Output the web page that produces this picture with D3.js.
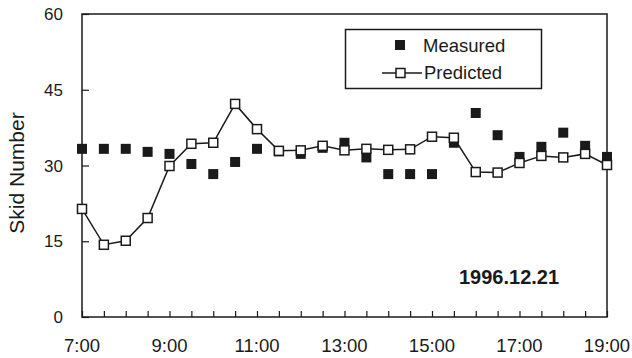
<!DOCTYPE html>
<html><head><meta charset="utf-8">
<script src="https://cdn.jsdelivr.net/npm/d3@7/dist/d3.min.js"></script>
<style>body{margin:0;background:#fff}svg{display:block}text{font-family:"Liberation Sans",Arial,sans-serif;fill:#1a1a1a}</style>
</head><body>
<svg id="c" width="632" height="358"></svg>
<script>
const times = ["7:00","7:30","8:00","8:30","9:00","9:30","10:00","10:30","11:00","11:30","12:00","12:30","13:00","13:30","14:00","14:30","15:00","15:30","16:00","16:30","17:00","17:30","18:00","18:30","19:00"];
const measured = [33.3,33.3,33.3,32.7,32.3,30.3,28.3,30.7,33.3,32.8,32.3,33.5,34.5,31.6,28.3,28.3,28.3,34.5,40.4,36.0,31.7,33.7,36.5,33.9,31.7];
const predicted = [21.4,14.3,15.1,19.6,29.9,34.3,34.5,42.2,37.2,32.9,33.0,33.9,33.0,33.3,33.1,33.2,35.7,35.5,28.7,28.6,30.5,31.9,31.6,32.3,30.1];
const xTickLabels = ["7:00","9:00","11:00","13:00","15:00","17:00","19:00"];
const yTicks = [0,15,30,45,60];
const seriesNames = ["Measured","Predicted"];
const yTitle = "Skid Number";
const dateLabel = "1996.12.21";

const toH = s => { const [h,m] = s.split(":").map(Number); return h + m/60; };
const svg = d3.select("#c");
const L=82, R=607, T=14, B=317;
const x = d3.scaleLinear().domain([7,19]).range([L,R]);
const y = d3.scaleLinear().domain([0,60]).range([B,T]);
const ink = "#1a1a1a";

// frame
svg.append("rect").attr("x",L).attr("y",T).attr("width",R-L).attr("height",B-T)
  .attr("fill","none").attr("stroke",ink).attr("stroke-width",1.5);

// x axis: half-hour ticks inward
const xAxis = d3.axisBottom(x).tickValues(times.map(toH)).tickSize(-6).tickFormat("");
const gx = svg.append("g").attr("transform",`translate(0,${B})`).call(xAxis);
gx.select(".domain").remove();
gx.selectAll("line").attr("stroke",ink).attr("stroke-width",1.2);
svg.append("g").selectAll("text").data(xTickLabels).join("text")
  .attr("x",d=>x(toH(d))).attr("y",352).attr("text-anchor","middle")
  .attr("font-size",18.5).text(d=>d);

// y axis
const yAxis = d3.axisLeft(y).tickValues(yTicks).tickSize(-7).tickFormat("");
const gy = svg.append("g").attr("transform",`translate(${L},0)`).call(yAxis);
gy.select(".domain").remove();
gy.selectAll("line").attr("stroke",ink).attr("stroke-width",1.2);
svg.append("g").selectAll("text").data(yTicks).join("text")
  .attr("x",63).attr("y",d=>y(d)+6).attr("text-anchor","end")
  .attr("font-size",17).text(d=>d);

svg.append("text").attr("transform",`translate(24,173) rotate(-90)`)
  .attr("text-anchor","middle").attr("font-size",21).text(yTitle);

// predicted line
const line = d3.line().x((d,i)=>x(toH(times[i]))).y(d=>y(d));
svg.append("path").datum(predicted).attr("d",line).attr("fill","none")
  .attr("stroke",ink).attr("stroke-width",1.5);

const s=10;
// measured squares
svg.append("g").selectAll("rect").data(measured).join("rect")
  .attr("x",(d,i)=>x(toH(times[i]))-s/2).attr("y",d=>y(d)-s/2)
  .attr("width",s).attr("height",s).attr("fill",ink);
// predicted squares
svg.append("g").selectAll("rect").data(predicted).join("rect")
  .attr("x",(d,i)=>x(toH(times[i]))-s/2+0.5).attr("y",d=>y(d)-s/2+0.5)
  .attr("width",s-1).attr("height",s-1).attr("fill","#fff").attr("stroke",ink).attr("stroke-width",1.5);

// legend
const lg = svg.append("g");
lg.append("rect").attr("x",345.5).attr("y",29.5).attr("width",196).attr("height",59)
  .attr("fill","#fff").attr("stroke",ink).attr("stroke-width",1.5);
lg.append("rect").attr("x",400-s/2).attr("y",45-s/2).attr("width",s).attr("height",s).attr("fill",ink);
lg.append("text").attr("x",423).attr("y",52).attr("font-size",18.5).text(seriesNames[0]);
lg.append("line").attr("x1",382).attr("x2",422).attr("y1",73).attr("y2",73).attr("stroke",ink).attr("stroke-width",1.5);
lg.append("rect").attr("x",400.5-s/2+0.5).attr("y",73-s/2+0.5).attr("width",s-1).attr("height",s-1)
  .attr("fill","#fff").attr("stroke",ink).attr("stroke-width",1.5);
lg.append("text").attr("x",424).attr("y",79).attr("font-size",18.5).text(seriesNames[1]);

svg.append("text").attr("x",459).attr("y",284).attr("font-size",20).attr("font-weight","bold").text(dateLabel);
</script>
</body></html>
